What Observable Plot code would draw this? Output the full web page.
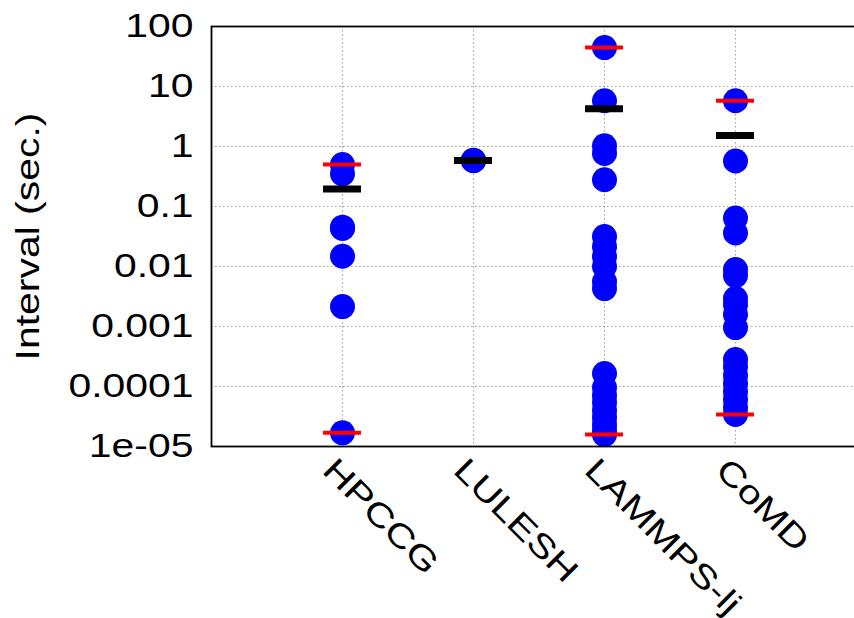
<!DOCTYPE html>
<html><head><meta charset="utf-8">
<script src="https://cdn.jsdelivr.net/npm/d3@7"></script>
<script src="https://cdn.jsdelivr.net/npm/@observablehq/plot@0.6"></script>
<style>
html,body{margin:0;padding:0;overflow:hidden;background:#fff;width:854px;height:618px}
#chart{width:854px;height:618px;overflow:hidden}
#chart svg{max-width:none !important;height:618px !important}
</style></head><body><div id="chart"></div>
<script>
const categories = ["HPCCG", "LULESH", "LAMMPS-lj", "CoMD"];
const hpccgValues = [0.5, 0.35, 0.0453, 0.043, 0.0148, 0.00215, 1.69e-5];
const luleshValues = [0.586, 0.59, 0.58];
const lammpsValues = [44.5, 5.79, 1.03, 0.767, 0.279, 0.0315, 0.0214, 0.0146, 0.00996, 0.0056, 0.00429,
  1.64e-4, 9.6e-5, 7.06e-5, 5.4e-5, 3.98e-5, 3.04e-5, 2.32e-5, 1.85e-5, 1.58e-5];
const comdValues = [5.79, 0.573, 0.0644, 0.0362, 0.00887, 0.00705, 0.00292, 0.00232, 0.00158, 0.00096,
  2.81e-4, 2.15e-4, 1.52e-4, 1.12e-4, 8.24e-5, 6.07e-5, 4.47e-5, 3.41e-5];
const meanValues = [0.195, 0.586, 4.26, 1.53];
const yTicks = [1e-5, 1e-4, 1e-3, 1e-2, 1e-1, 1, 10, 100];
const yTickLabels = ["1e-05", "0.0001", "0.001", "0.01", "0.1", "1", "10", "100"];
const yLabel = "Interval (sec.)";

const series = [hpccgValues, luleshValues, lammpsValues, comdValues];
const points = series.flatMap((vals, i) => vals.map(v => ({bench: categories[i], value: v})));
const extremes = series.flatMap((vals, i) => [
  {bench: categories[i], value: d3.min(vals)},
  {bench: categories[i], value: d3.max(vals)}
]);
const means = meanValues.map((v, i) => ({bench: categories[i], value: v}));

const chart = Plot.plot({
  width: 866,
  height: 618,
  marginLeft: 211,
  marginRight: 0,
  marginTop: 26,
  marginBottom: 172,
  style: {fontFamily: "'Liberation Sans', Arial, sans-serif", fontSize: "33px", background: "white", color: "black"},
  x: {type: "band", domain: categories, paddingInner: 0.71, paddingOuter: 0.855, round: false},
  y: {type: "log", domain: [1e-5, 100]},
  marks: [
    Plot.gridY(yTicks, {stroke: "#a0a0a0", strokeOpacity: 1, strokeWidth: 1, strokeDasharray: "1.5,2.5"}),
    Plot.gridX(categories, {stroke: "#a0a0a0", strokeOpacity: 1, strokeWidth: 1, strokeDasharray: "1.5,2.5"}),
    Plot.axisY(yTicks, {tickFormat: (d) => yTickLabels[yTicks.indexOf(d)], tickSize: 0, tickPadding: 18,
      fontSize: 33, label: yLabel, labelAnchor: "center", labelArrow: "none", labelOffset: 196}),
    Plot.axisX({tickRotate: 45, tickSize: 0, tickPadding: 18, dx: -14, fontSize: 33, label: null}),
    Plot.dot(points, {x: "bench", y: "value", r: 12.5, fill: "#0000ff", stroke: "none"}),
    Plot.tickY(extremes, {x: "bench", y: "value", stroke: "#ff0000", strokeWidth: 4}),
    Plot.tickY(means, {x: "bench", y: "value", stroke: "black", strokeWidth: 7}),
    Plot.frame({stroke: "black", strokeWidth: 1.8})
  ]
});
chart.style.maxWidth = "none";
document.getElementById("chart").appendChild(chart);
// Widen glyphs horizontally like the reference's wide sans font
chart.querySelectorAll("text").forEach(t => {
  let tr = t.getAttribute("transform");
  if (!tr) {
    const x = +t.getAttribute("x") || 0, y = +t.getAttribute("y") || 0;
    t.removeAttribute("x"); t.removeAttribute("y");
    tr = `translate(${x},${y})`;
  }
  t.setAttribute("transform", tr + " scale(1.24,1)");
});
</script></body></html>
